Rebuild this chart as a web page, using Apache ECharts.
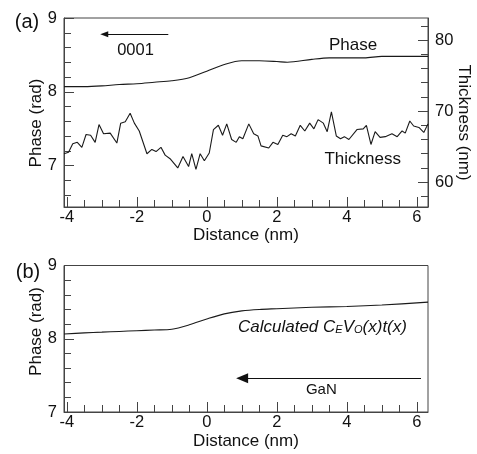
<!DOCTYPE html>
<html>
<head>
<meta charset="utf-8">
<script src="https://cdn.jsdelivr.net/npm/echarts@6/dist/echarts.min.js"></script>
<style>
  html, body { margin: 0; padding: 0; background: #fff; }
  #chart { width: 477px; height: 454px; }
</style>
</head>
<body>
<div id="chart"></div>
<script>
// panel (a): measured phase
var phaseAX = [-4.08, -3.5, -3, -2.5, -2, -1.5, -1, -0.5, 0, 0.5, 1, 1.5, 2, 2.3, 3, 3.5, 4.5, 5, 6.32];
var phaseAY = [8.07, 8.07, 8.08, 8.10, 8.11, 8.13, 8.15, 8.19, 8.28, 8.37, 8.42, 8.42, 8.41, 8.40, 8.44, 8.46, 8.46, 8.48, 8.48];

// panel (a): thickness (right axis)
var thickX = [-4.08, -3.95, -3.83, -3.70, -3.57, -3.45, -3.32, -3.19, -3.08, -2.95, -2.76, -2.57, -2.46, -2.33, -2.19, -2.07, -1.93,
  -1.71, -1.57, -1.45, -1.31, -1.19, -1.05, -0.83, -0.68, -0.52, -0.43, -0.31, -0.19, -0.07, 0.07, 0.19, 0.33, 0.45, 0.57,
  0.71, 0.84, 0.93, 1.03, 1.2, 1.34, 1.46, 1.55, 1.77, 1.89, 2.03, 2.17, 2.29, 2.41, 2.53, 2.67, 2.80, 2.94, 3.06, 3.18,
  3.33, 3.44, 3.56, 3.70, 3.82, 3.93, 4.06, 4.29, 4.47, 4.56, 4.69, 4.81, 4.95, 5.10, 5.29, 5.44, 5.58, 5.67, 5.80, 5.91,
  6.06, 6.20, 6.32];
var thickY = [64.0, 64.2, 65.4, 65.6, 64.9, 66.7, 66.6, 65.6, 68.1, 66.8, 66.9, 65.5, 68.3, 68.5, 69.7, 68.3, 67.2,
  64.0, 64.6, 64.3, 64.9, 63.8, 63.3, 62.0, 63.6, 62.2, 64.0, 61.8, 64.0, 63.0, 64.1, 67.4, 68.0, 66.6, 68.2,
  66.0, 65.6, 66.4, 66.1, 68.2, 66.8, 66.5, 65.1, 64.8, 65.6, 65.3, 66.6, 66.4, 66.8, 66.5, 68.0, 67.2, 68.3, 67.5, 68.8,
  68.3, 67.1, 69.9, 66.5, 66.1, 66.4, 66.0, 67.4, 67.5, 68.0, 65.3, 67.1, 66.3, 66.4, 66.8, 66.4, 67.2, 66.9, 68.6, 67.9,
  67.7, 67.0, 68.2];

// panel (b): calculated phase
var phaseBX = [-4.08, -3.5, -3, -2.5, -2, -1.5, -1, -0.5, 0, 0.5, 1, 1.5, 2, 3, 4, 5, 6.32];
var phaseBY = [8.065, 8.08, 8.09, 8.10, 8.11, 8.12, 8.13, 8.19, 8.27, 8.34, 8.38, 8.40, 8.41, 8.43, 8.44, 8.46, 8.50];

// ticks
var xMajor = [-4, -2, 0, 2, 4, 6];
var xMinor = [-3.5, -3, -2.5, -1.5, -1, -0.5, 0.5, 1, 1.5, 2.5, 3, 3.5, 4.5, 5, 5.5];
var phaseMajor = [7, 8, 9];
var phaseMinorA = [6.6, 6.8, 7.2, 7.4, 7.6, 7.8, 8.2, 8.4, 8.6, 8.8];
var phaseMinorB = [7.2, 7.4, 7.6, 7.8, 8.2, 8.4, 8.6, 8.8];
var thickMajor = [60, 70, 80];
var thickMinor = [58, 62, 64, 66, 68, 72, 74, 76, 78, 82];

function zip(xs, ys) {
  return xs.map(function (x, i) { return [x, ys[i]]; });
}

var FONT = "'Liberation Sans', Arial, Helvetica, sans-serif";
var INK = '#111';
var AX = '#444';

function xMain(grid, gap) {
  return {
    type: 'value', gridIndex: grid, position: 'bottom', min: -4.08, max: 6.32,
    axisLine: { show: true, onZero: false, lineStyle: { color: AX, width: 1 } },
    axisTick: { show: true, inside: true, length: 10, customValues: xMajor, lineStyle: { color: AX } },
    axisLabel: { customValues: xMajor, color: INK, fontSize: 16.5, fontFamily: FONT, margin: 2 },
    splitLine: { show: false },
    name: 'Distance (nm)', nameLocation: 'middle', nameGap: gap,
    nameTextStyle: { color: INK, fontSize: 17, fontFamily: FONT }
  };
}
function xMin(grid) {
  return {
    type: 'value', gridIndex: grid, position: 'bottom', min: -4.08, max: 6.32,
    axisLine: { show: false, onZero: false },
    axisTick: { show: true, inside: true, length: 7, customValues: xMinor, lineStyle: { color: AX } },
    axisLabel: { show: false }, splitLine: { show: false }
  };
}
function yAxisPair(grid, pos, min, max, major, minor) {
  return [{
    type: 'value', gridIndex: grid, position: pos, min: min, max: max,
    axisLine: { show: true, onZero: false, lineStyle: { color: AX, width: 1 } },
    axisTick: { show: true, inside: true, length: 10, customValues: major, lineStyle: { color: AX } },
    axisLabel: { customValues: major, color: INK, fontSize: 16.5, fontFamily: FONT, margin: 7 },
    splitLine: { show: false }
  }, {
    type: 'value', gridIndex: grid, position: pos, min: min, max: max,
    axisLine: { show: false, onZero: false },
    axisTick: { show: true, inside: true, length: 7, customValues: minor, lineStyle: { color: AX } },
    axisLabel: { show: false }, splitLine: { show: false }
  }];
}

var yAxes = []
  .concat(yAxisPair(0, 'left', 6.44, 9, phaseMajor, phaseMinorA))
  .concat(yAxisPair(0, 'right', 56.5, 83.1, thickMajor, thickMinor))
  .concat(yAxisPair(1, 'left', 7, 9, phaseMajor, phaseMinorB));

var lineStyle = { color: '#1a1a1a', width: 1.1 };

var chart = echarts.init(document.getElementById('chart'), null, { renderer: 'canvas' });

chart.setOption({
  animation: false,
  backgroundColor: '#fff',
  grid: [
    { left: 64, top: 18, width: 364, height: 189, show: true, borderColor: AX, borderWidth: 1, backgroundColor: 'transparent' },
    { left: 64, top: 265.5, width: 364, height: 146.5, show: true, borderColor: AX, borderWidth: 1, backgroundColor: 'transparent' }
  ],
  xAxis: [xMain(0, 19), xMin(0), xMain(1, 21), xMin(1)],
  yAxis: yAxes,
  series: [
    {
      name: 'Phase', type: 'line', xAxisIndex: 0, yAxisIndex: 0,
      data: zip(phaseAX, phaseAY), smooth: 0.3, showSymbol: false,
      lineStyle: lineStyle,
      markLine: {
        silent: true, symbol: ['none', 'triangle'], symbolSize: [6, 8],
        label: { show: false }, lineStyle: { color: '#111', width: 1, type: 'solid' },
        data: [[{ coord: [-1.1, 8.78] }, { coord: [-2.93, 8.78] }]]
      }
    },
    {
      name: 'Thickness', type: 'line', xAxisIndex: 0, yAxisIndex: 2,
      data: zip(thickX, thickY), showSymbol: false,
      lineStyle: lineStyle
    },
    {
      name: 'Calculated', type: 'line', xAxisIndex: 2, yAxisIndex: 4,
      data: zip(phaseBX, phaseBY), smooth: 0.3, showSymbol: false,
      lineStyle: lineStyle,
      markLine: {
        silent: true, symbol: ['none', 'triangle'], symbolSize: [10, 12],
        label: { show: false }, lineStyle: { color: '#111', width: 1.2, type: 'solid' },
        data: [[{ coord: [6.12, 7.46] }, { coord: [1.01, 7.46] }]]
      }
    }
  ],
  graphic: [
    { type: 'text', x: 27, y: 22, style: { text: '(a)', font: '20px ' + FONT, fill: INK, textAlign: 'center', textVerticalAlign: 'middle' } },
    { type: 'text', x: 28, y: 272, style: { text: '(b)', font: '20px ' + FONT, fill: INK, textAlign: 'center', textVerticalAlign: 'middle' } },
    { type: 'text', x: 36, y: 123, rotation: Math.PI / 2, style: { text: 'Phase (rad)', font: '17px ' + FONT, fill: INK, textAlign: 'center', textVerticalAlign: 'middle' } },
    { type: 'text', x: 36, y: 331.5, rotation: Math.PI / 2, style: { text: 'Phase (rad)', font: '17px ' + FONT, fill: INK, textAlign: 'center', textVerticalAlign: 'middle' } },
    { type: 'text', x: 463.5, y: 122.5, rotation: -Math.PI / 2, style: { text: 'Thickness (nm)', font: '17px ' + FONT, fill: INK, textAlign: 'center', textVerticalAlign: 'middle' } },
    { type: 'text', x: 135.5, y: 50, style: { text: '0001', font: '16.5px ' + FONT, fill: INK, textAlign: 'center', textVerticalAlign: 'middle' } },
    { type: 'text', x: 353, y: 45.5, style: { text: 'Phase', font: '17px ' + FONT, fill: INK, textAlign: 'center', textVerticalAlign: 'middle' } },
    { type: 'text', x: 362.7, y: 159, style: { text: 'Thickness', font: '17px ' + FONT, fill: INK, textAlign: 'center', textVerticalAlign: 'middle' } },
    { type: 'text', x: 321.3, y: 390, style: { text: 'GaN', font: '15px ' + FONT, fill: INK, textAlign: 'center', textVerticalAlign: 'middle' } },
    {
      type: 'text', x: 238, y: 326,
      style: {
        text: '{n|Calculated C}{s|E}{n|V}{s|O}{n|(x)t(x)}',
        textAlign: 'left', textVerticalAlign: 'middle', fill: INK,
        rich: {
          n: { fontSize: 17, fontStyle: 'italic', fontFamily: FONT, color: INK, verticalAlign: 'bottom', lineHeight: 20 },
          s: { fontSize: 11, fontStyle: 'italic', fontFamily: FONT, color: INK, verticalAlign: 'bottom', lineHeight: 20, padding: [0, 0, 1, 0] }
        }
      }
    }
  ]
});
</script>
</body>
</html>
